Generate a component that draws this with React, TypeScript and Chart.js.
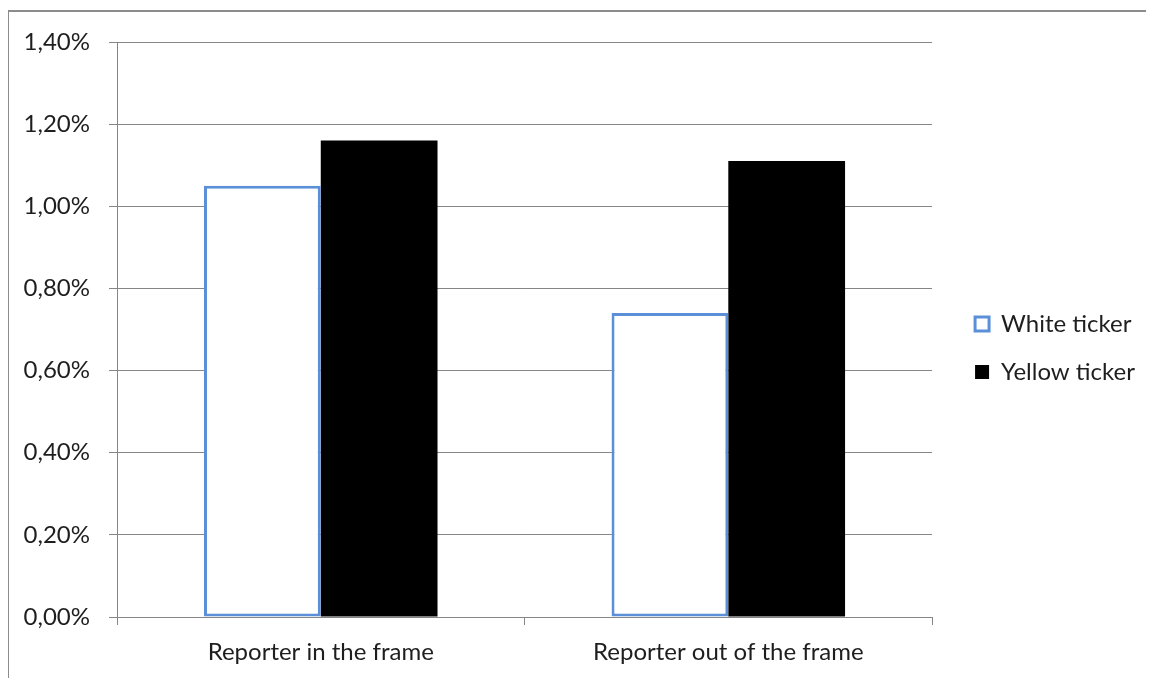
import React, { useEffect, useRef } from "react";
import { Chart, registerables } from "chart.js";

Chart.register(...registerables);

const categories = ["Reporter in the frame", "Reporter out of the frame"];
const whiteTicker = [1.05, 0.74];
const yellowTicker = [1.16, 1.11];
const seriesNames = ["White ticker", "Yellow ticker"];
const yMax = 1.4;
const yStep = 0.2;

const FONT = { family: "Lato, 'Liberation Sans', sans-serif", size: 24 };
const GRID = "#868686";
const TEXT = "#1e1e1e";

// Nudge the legend a bit further away from the plot area.
const legendOffset = {
  id: "legendOffset",
  afterLayout(chart: any) {
    const lg = chart.legend;
    if (!lg) return;
    lg.left += 19;
    lg.right += 19;
    lg.top -= 12;
    lg.bottom -= 12;
  },
};

export default function App() {
  const ref = useRef<HTMLCanvasElement | null>(null);

  useEffect(() => {
    if (!ref.current) return;
    const chart = new Chart(ref.current, {
      type: "bar",
      data: {
        labels: categories,
        datasets: [
          {
            label: seriesNames[0],
            data: whiteTicker,
            backgroundColor: "#ffffff",
            borderColor: "#5b8fd8",
            borderWidth: 3,
            borderSkipped: false,
          },
          {
            label: seriesNames[1],
            data: yellowTicker,
            backgroundColor: "#000000",
            borderWidth: 0,
          },
        ],
      },
      options: {
        animation: false,
        responsive: false,
        maintainAspectRatio: false,
        datasets: {
          bar: { categoryPercentage: 0.573, barPercentage: 1 },
        },
        layout: { padding: { top: 30, right: 28, bottom: 0, left: 0 } },
        plugins: {
          tooltip: { enabled: false },
          legend: {
            position: "right",
            align: "center",
            labels: {
              font: FONT,
              color: TEXT,
              boxWidth: 14,
              boxHeight: 14,
              padding: 24,
            },
          },
        },
        scales: {
          x: {
            grid: {
              display: true,
              drawOnChartArea: false,
              drawTicks: true,
              offset: true,
              tickLength: 8,
              color: GRID,
            },
            border: { display: true, color: GRID, width: 1 },
            ticks: { font: FONT, color: TEXT, padding: 13, maxRotation: 0 },
            afterFit(scale: any) {
              scale.height = 61;
            },
          },
          y: {
            min: 0,
            max: yMax,
            grid: { color: GRID, tickLength: 8, drawTicks: true },
            border: { display: true, color: GRID, width: 1 },
            ticks: {
              stepSize: yStep,
              font: { ...FONT, lineHeight: 0.8 },
              color: TEXT,
              padding: 19,
              callback: (v: any) => Number(v).toFixed(2).replace(".", ",") + "%",
            },
            afterFit(scale: any) {
              scale.width = 108;
            },
          },
        },
      },
      plugins: [legendOffset],
    });
    return () => chart.destroy();
  }, []);

  return (
    <div
      style={{
        marginTop: 2,
        marginLeft: -1,
        width: 1145,
        height: 666,
        borderTop: "2px solid #8c8c8c",
        borderLeft: "2px solid #8c8c8c",
        background: "#fff",
      }}
    >
      <canvas ref={ref} width={1145} height={666} style={{ display: "block" }} />
    </div>
  );
}
